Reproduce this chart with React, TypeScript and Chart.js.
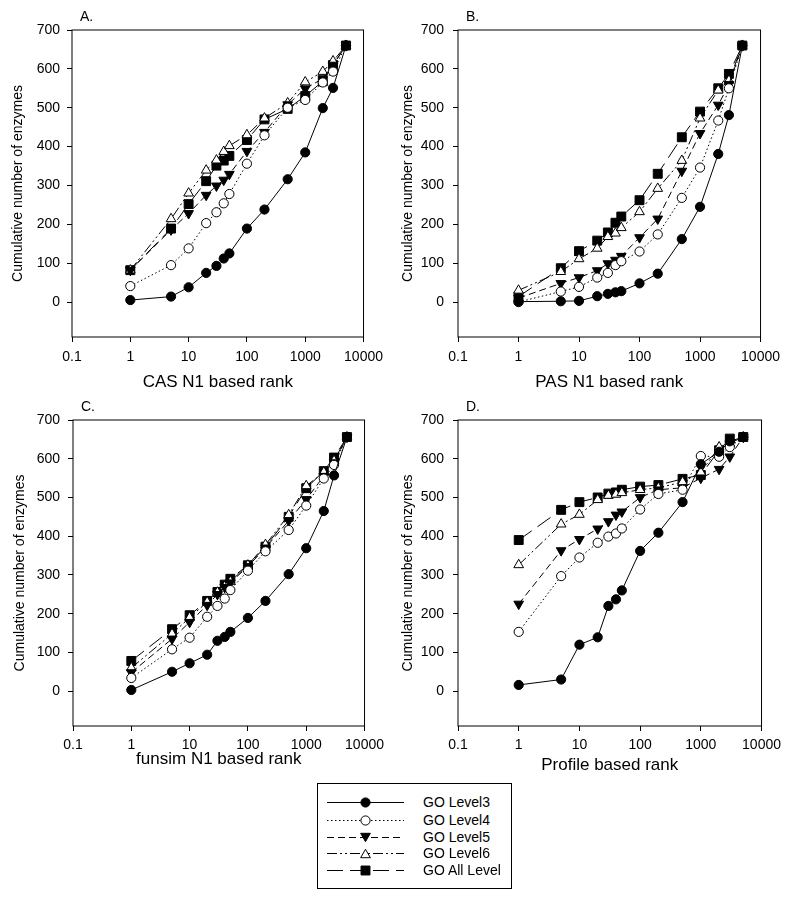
import React, { useEffect, useRef } from "react";
import { Chart, registerables } from "chart.js";

Chart.register(...registerables);

const FONT = "'Liberation Sans', Arial, sans-serif";

// ---------- data ----------
const RANKS = [1, 5, 10, 20, 30, 40, 50, 100, 200, 500, 1000, 2000, 3000, 5000];
const SERIES_NAMES = ["GO Level3", "GO Level4", "GO Level5", "GO Level6", "GO All Level"];
const X_TICKS = [0.1, 1, 10, 100, 1000, 10000];
const Y_TICKS = [0, 100, 200, 300, 400, 500, 600, 700];
const PANEL_LABELS = ["A.", "B.", "C.", "D."];
const X_TITLES = ["CAS N1 based rank", "PAS N1 based rank", "funsim N1 based rank", "Profile based rank"];
const Y_TITLE = "Cumulative number of enzymes";

const A_L3 = [5, 14, 38, 75, 93, 112, 125, 189, 238, 316, 385, 499, 551, 660];
const A_L4 = [41, 95, 138, 203, 231, 254, 278, 356, 429, 500, 520, 565, 593, 660];
const A_L5 = [82, 186, 228, 275, 299, 314, 329, 388, 437, 508, 549, 575, 610, 660];
const A_L6 = [82, 214, 280, 339, 365, 387, 402, 430, 473, 512, 566, 593, 620, 660];
const A_ALL = [82, 189, 252, 311, 351, 364, 376, 417, 470, 497, 530, 568, 610, 660];

const B_L3 = [1, 2, 3, 15, 21, 25, 28, 48, 73, 162, 245, 381, 481, 660];
const B_L4 = [0, 27, 39, 63, 75, 95, 105, 130, 174, 268, 346, 467, 550, 660];
const B_L5 = [10, 48, 63, 81, 99, 108, 118, 166, 214, 337, 434, 507, 560, 660];
const B_L6 = [30, 78, 111, 138, 168, 177, 191, 232, 292, 364, 473, 545, 570, 660];
const B_ALL = [14, 87, 131, 158, 179, 204, 220, 262, 330, 424, 490, 550, 587, 660];

const C_L3 = [3, 50, 72, 94, 130, 140, 153, 189, 233, 302, 369, 465, 557, 656];
const C_L4 = [34, 108, 138, 192, 220, 239, 261, 311, 361, 416, 479, 549, 584, 656];
const C_L5 = [48, 135, 178, 222, 250, 268, 280, 322, 370, 440, 495, 555, 590, 656];
const C_L6 = [60, 148, 190, 230, 255, 270, 283, 325, 378, 455, 530, 565, 595, 656];
const C_ALL = [78, 160, 196, 233, 256, 275, 290, 325, 373, 450, 524, 568, 603, 656];

const D_L3 = [16, 30, 120, 139, 220, 237, 260, 362, 409, 488, 586, 618, 645, 656];
const D_L4 = [153, 297, 345, 383, 399, 407, 420, 469, 509, 520, 607, 605, 630, 656];
const D_L5 = [225, 363, 392, 419, 438, 455, 463, 500, 520, 525, 550, 573, 605, 656];
const D_L6 = [326, 431, 456, 494, 505, 508, 512, 520, 525, 540, 565, 630, 640, 656];
const D_ALL = [390, 468, 488, 500, 510, 513, 520, 528, 532, 548, 558, 622, 652, 656];

const PANEL_DATA = [
  [A_L3, A_L4, A_L5, A_L6, A_ALL],
  [B_L3, B_L4, B_L5, B_L6, B_ALL],
  [C_L3, C_L4, C_L5, C_L6, C_ALL],
  [D_L3, D_L4, D_L5, D_L6, D_ALL],
];

// ---------- styles ----------
type SeriesStyle = { point: string; rotation: number; radius: number; fill: string; dash: number[] };
const SERIES_STYLES: SeriesStyle[] = [
  { point: "circle", rotation: 0, radius: 4.6, fill: "#000", dash: [] },
  { point: "circle", rotation: 0, radius: 4.6, fill: "#fff", dash: [1.5, 2.5] },
  { point: "triangle", rotation: 180, radius: 5.6, fill: "#000", dash: [7, 4] },
  { point: "triangle", rotation: 0, radius: 5.6, fill: "#fff", dash: [10, 3, 2, 3, 2, 3] },
  { point: "rect", rotation: 0, radius: 6.3, fill: "#000", dash: [16, 7] },
];

type Layout = {
  left: number; top: number; w: number; h: number;
  padTop: number; padRight: number; yW: number; xH: number;
  yTitlePad: number; xTitlePad: number; xTickPad: number; yTickPad: number;
};
const LAYOUTS: Layout[] = [
  { left: 0, top: 0, w: 390, h: 400, padTop: 30, padRight: 13, yW: 72, xH: 63, yTitlePad: 10, xTitlePad: 7, xTickPad: 7, yTickPad: 7 },
  { left: 390, top: 0, w: 397, h: 400, padTop: 30, padRight: 24, yW: 68, xH: 63, yTitlePad: 10, xTitlePad: 7, xTickPad: 7, yTickPad: 9 },
  { left: 0, top: 395, w: 390, h: 385, padTop: 25, padRight: 11, yW: 73, xH: 54, yTitlePad: 12, xTitlePad: 10, xTickPad: 6, yTickPad: 8 },
  { left: 390, top: 395, w: 397, h: 385, padTop: 25, padRight: 24, yW: 68, xH: 54, yTitlePad: 10, xTitlePad: 4, xTickPad: 6, yTickPad: 9 },
];

function Panel({ index }: { index: number }) {
  const ref = useRef<HTMLCanvasElement | null>(null);
  const L = LAYOUTS[index];
  useEffect(() => {
    if (!ref.current) return;
    const label = PANEL_LABELS[index];
    const boxPlugin = {
      id: "boxAndLabel",
      afterDraw(chart: any) {
        const { ctx, chartArea } = chart;
        const { left, top, right, bottom } = chartArea;
        ctx.save();
        ctx.strokeStyle = "#000";
        ctx.lineWidth = 1;
        ctx.setLineDash([]);
        ctx.strokeRect(left, top, right - left, bottom - top);
        ctx.fillStyle = "#000";
        ctx.font = `14px ${FONT}`;
        ctx.textAlign = "left";
        ctx.textBaseline = "middle";
        ctx.fillText(label, left + 8, top - 13);
        ctx.restore();
      },
    };
    const datasets = SERIES_NAMES.map((name, si) => {
      const st = SERIES_STYLES[si];
      return {
        label: name,
        data: RANKS.map((r, i) => ({ x: r, y: PANEL_DATA[index][si][i] })),
        borderColor: "#000",
        borderWidth: 1,
        borderDash: st.dash,
        backgroundColor: st.fill,
        pointStyle: st.point,
        pointRotation: st.rotation,
        pointRadius: st.radius,
        pointBackgroundColor: st.fill,
        pointBorderColor: "#000",
        pointBorderWidth: 1,
        tension: 0,
        fill: false,
      };
    });
    const chart = new Chart(ref.current, {
      type: "line",
      data: { datasets: datasets as any },
      plugins: [boxPlugin],
      options: {
        animation: false,
        responsive: false,
        maintainAspectRatio: false,
        devicePixelRatio: 1,
        layout: { padding: { top: L.padTop, right: L.padRight, left: 0, bottom: 0 } },
        plugins: { legend: { display: false }, tooltip: { enabled: false } },
        scales: {
          x: {
            type: "logarithmic",
            min: 0.1,
            max: 10000,
            afterBuildTicks: (s: any) => {
              s.ticks = X_TICKS.map((v) => ({ value: v }));
            },
            afterFit: (s: any) => {
              s.height = L.xH;
            },
            ticks: {
              autoSkip: false,
              maxRotation: 0,
              color: "#000",
              padding: L.xTickPad,
              font: { size: 14, family: FONT },
              callback: (v: any) => String(v),
            },
            grid: { display: true, drawOnChartArea: false, drawTicks: true, tickLength: 5, color: "#000" },
            border: { display: false },
            title: {
              display: true,
              text: X_TITLES[index],
              color: "#000",
              font: { size: 17, family: FONT },
              padding: { top: 0, bottom: L.xTitlePad },
            },
          },
          y: {
            type: "linear",
            min: -90,
            max: 700,
            afterBuildTicks: (s: any) => {
              s.ticks = Y_TICKS.map((v) => ({ value: v }));
            },
            afterFit: (s: any) => {
              s.width = L.yW;
            },
            ticks: {
              color: "#000",
              padding: L.yTickPad,
              font: { size: 14, family: FONT },
              callback: (v: any) => String(v),
            },
            grid: { display: true, drawOnChartArea: false, drawTicks: true, tickLength: 5, color: "#000" },
            border: { display: false },
            title: {
              display: true,
              text: Y_TITLE,
              color: "#000",
              font: { size: 14, family: FONT },
              padding: { top: L.yTitlePad, bottom: 0 },
            },
          },
        },
      } as any,
    });
    return () => chart.destroy();
  }, [index]);
  return (
    <canvas
      ref={ref}
      width={L.w}
      height={L.h}
      style={{ position: "absolute", left: L.left, top: L.top, width: L.w, height: L.h }}
    />
  );
}

const LEGEND_ROW_Y = [802, 820, 837, 853, 870];

function LegendSample({ si }: { si: number }) {
  const ref = useRef<HTMLCanvasElement | null>(null);
  useEffect(() => {
    const c = ref.current;
    if (!c) return;
    const ctx = c.getContext("2d");
    if (!ctx) return;
    const st = SERIES_STYLES[si];
    ctx.clearRect(0, 0, c.width, c.height);
    ctx.strokeStyle = "#000";
    ctx.lineWidth = 1;
    ctx.setLineDash(st.dash);
    ctx.beginPath();
    ctx.moveTo(0, 8.5);
    ctx.lineTo(77, 8.5);
    ctx.stroke();
    ctx.setLineDash([]);
    const cx = 38.5, cy = 8.5, r = st.radius;
    ctx.fillStyle = st.fill;
    ctx.beginPath();
    if (st.point === "circle") {
      ctx.arc(cx, cy, r, 0, Math.PI * 2);
    } else if (st.point === "triangle") {
      const rot = (st.rotation * Math.PI) / 180;
      for (let k = 0; k < 3; k++) {
        const a = rot + (k * 2 * Math.PI) / 3;
        const px = cx + Math.sin(a) * r;
        const py = cy - Math.cos(a) * r + (st.rotation ? -r * 0.25 : r * 0.25);
        if (k === 0) ctx.moveTo(px, py);
        else ctx.lineTo(px, py);
      }
      ctx.closePath();
    } else {
      const s = Math.SQRT1_2 * r;
      ctx.rect(cx - s, cy - s, 2 * s, 2 * s);
    }
    ctx.fill();
    ctx.stroke();
  }, [si]);
  return <canvas ref={ref} width={78} height={17} style={{ position: "absolute", left: 9, top: 0 }} />;
}

function Legend() {
  const boxLeft = 317, boxTop = 783;
  return (
    <div
      style={{
        position: "absolute",
        left: boxLeft,
        top: boxTop,
        width: 195,
        height: 106,
        border: "1px solid #000",
        boxSizing: "border-box",
        background: "#fff",
      }}
    >
      {SERIES_NAMES.map((name, si) => (
        <div
          key={name}
          style={{ position: "absolute", left: 0, top: LEGEND_ROW_Y[si] - boxTop - 1 - 8.5, height: 17, width: 193 }}
        >
          <LegendSample si={si} />
          <span
            style={{
              position: "absolute",
              left: 105,
              top: 0,
              lineHeight: "17px",
              fontSize: 14,
              fontFamily: FONT,
              color: "#000",
              whiteSpace: "nowrap",
            }}
          >
            {name}
          </span>
        </div>
      ))}
    </div>
  );
}

export default function App() {
  return (
    <div style={{ position: "absolute", left: 0, top: 0, width: 787, height: 899, background: "#fff" }}>
      {[0, 1, 2, 3].map((i) => (
        <Panel key={i} index={i} />
      ))}
      <Legend />
    </div>
  );
}
